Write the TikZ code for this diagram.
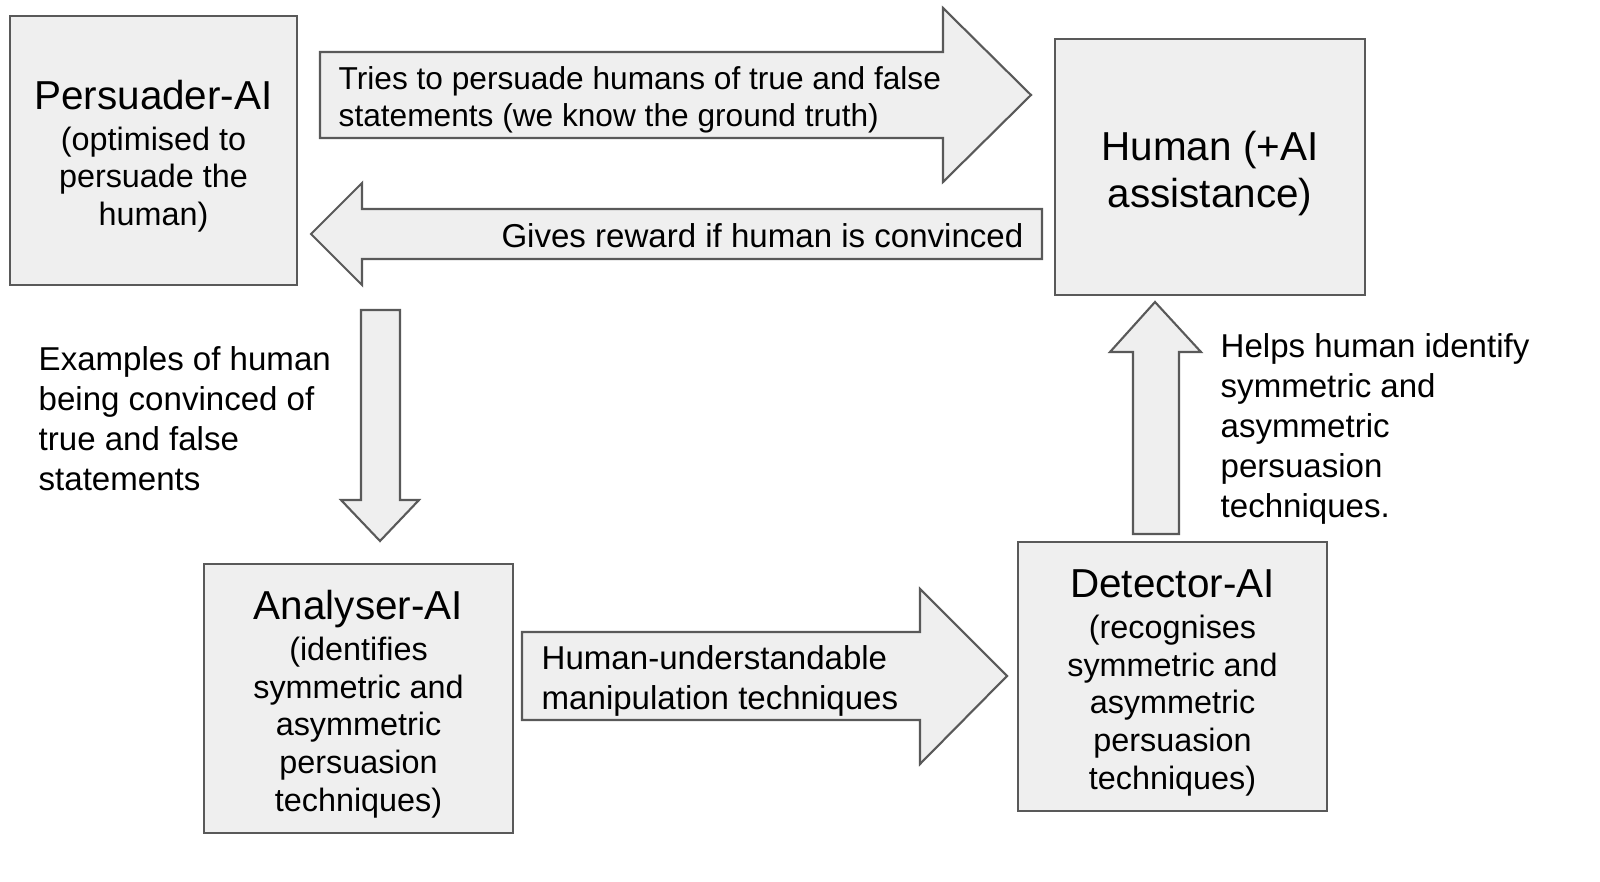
\documentclass[tikz,border=0pt]{standalone}
\usepackage{fontspec}
\setmainfont{Liberation Sans}
\definecolor{boxfill}{HTML}{EFEFEF}
\definecolor{boxline}{HTML}{595959}
\tikzset{
  agent/.style={draw=boxline, fill=boxfill, line width=0.6pt, align=center,
    font=\fontsize{9.2}{10.7}\selectfont, inner sep=0pt},
  blockarrow/.style={draw=boxline, fill=boxfill, line width=0.6pt, line join=miter},
  label/.style={align=left, inner sep=0pt, font=\fontsize{9.4}{11.4}\selectfont}
}
\newcommand{\agentname}[1]{{\fontsize{11.5}{13}\selectfont\rule{0pt}{11.5pt}#1}}
\begin{document}
\begin{tikzpicture}[x=0.01cm, y=-0.01cm]
  \useasboundingbox (0,0) rectangle (1600,882);
  % the four boxes
  \node[agent, minimum width=2.87cm, minimum height=2.69cm] (persuader) at (153.5,150.5)
    {\agentname{Persuader-AI}\\[1pt](optimised to\\persuade the\\human)};
  \node[agent, minimum width=3.10cm, minimum height=2.56cm, font=\fontsize{11.5}{13.2}\selectfont] (human) at (1210,167)
    {\rule{0pt}{12pt}Human (+AI\\assistance)};
  \node[agent, minimum width=3.09cm, minimum height=2.69cm] (analyser) at (358.5,698.5)
    {\agentname{Analyser-AI}\\[1pt](identifies\\symmetric and\\asymmetric\\persuasion\\techniques)};
  \node[agent, minimum width=3.09cm, minimum height=2.69cm] (detector) at (1172.5,676.5)
    {\agentname{Detector-AI}\\[1pt](recognises\\symmetric and\\asymmetric\\persuasion\\techniques)};
  % block arrows
  \draw[blockarrow] (320,52) -- (943,52) -- (943,8) -- (1031,95) -- (943,182) -- (943,138) -- (320,138) -- cycle;
  \draw[blockarrow] (1042,209) -- (362,209) -- (362,183) -- (311,234) -- (362,285) -- (362,259) -- (1042,259) -- cycle;
  \draw[blockarrow] (361,310) -- (400,310) -- (400,500) -- (419,500) -- (380,541) -- (341,500) -- (361,500) -- cycle;
  \draw[blockarrow] (522,632) -- (920,632) -- (920,589) -- (1007,676) -- (920,764) -- (920,720) -- (522,720) -- cycle;
  \draw[blockarrow] (1133,534) -- (1133,352) -- (1110,352) -- (1155,302) -- (1201,352) -- (1179,352) -- (1179,534) -- cycle;
  % texts
  \node[label, anchor=west, font=\fontsize{9}{10.5}\selectfont] (tries) at (338,100)
    {Tries to persuade humans of true and false\\statements (we know the ground truth)};
  \node[label, anchor=east] (reward) at (1024,236) {Gives reward if human is convinced};
  \node[label, anchor=west] (examples) at (38,419)
    {Examples of human\\being convinced of\\true and false\\statements};
  \node[label, anchor=west] (techniques) at (541,681)
    {Human-understandable\\manipulation techniques};
  \node[label, anchor=west] (helps) at (1220,429)
    {Helps human identify\\symmetric and\\asymmetric\\persuasion\\techniques.};
\end{tikzpicture}
\end{document}
